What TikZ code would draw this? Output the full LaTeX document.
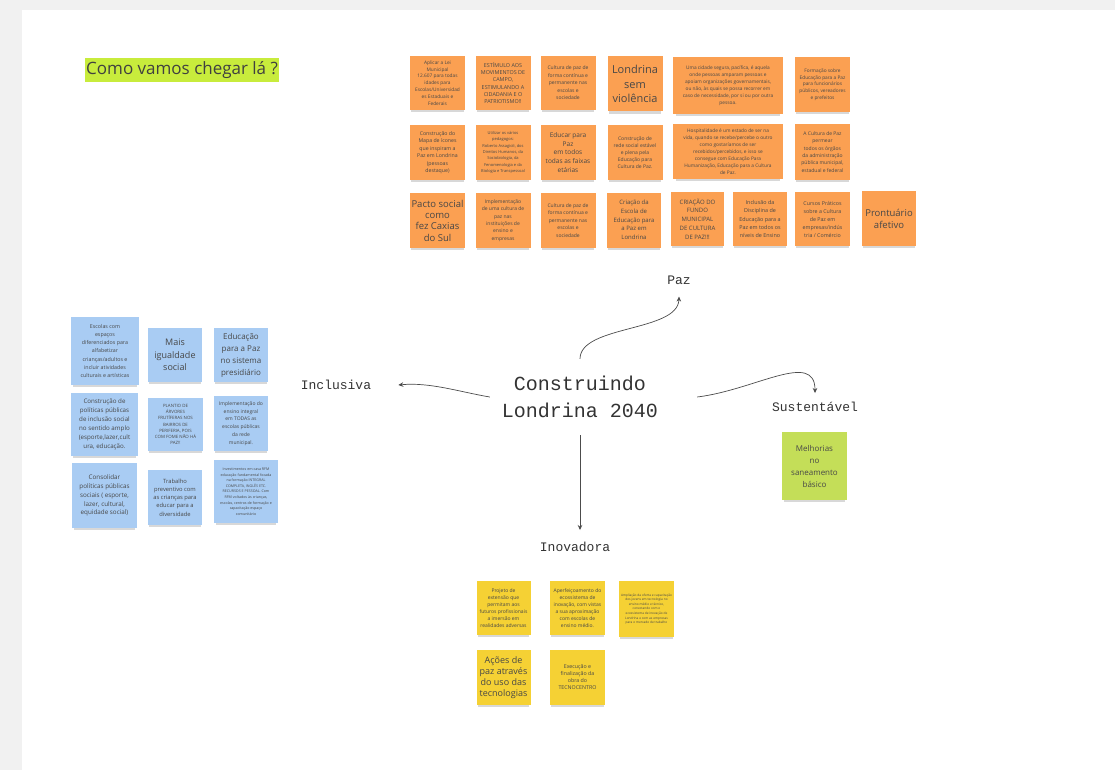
\documentclass[tikz,border=0pt]{standalone}
\usepackage{fontspec}
\setmainfont{Open Sans}
\newfontfamily\monof{Liberation Mono}
\usetikzlibrary{shadows,arrows.meta}
\definecolor{bggrey}{RGB}{241,241,241}
\definecolor{orangeN}{RGB}{251,160,82}
\definecolor{blueN}{RGB}{169,204,243}
\definecolor{yellowN}{RGB}{245,209,52}
\definecolor{greenN}{RGB}{196,222,88}
\definecolor{titleG}{RGB}{200,236,60}
\newcommand\nfs[2]{\fontsize{#1}{#2}\selectfont}
\tikzset{
  note/.style={rectangle, inner sep=0pt, align=center, text=black!72,
    drop shadow={shadow xshift=0pt, shadow yshift=-4pt, opacity=0.3, shadow scale=0.95}},
  on/.style={note, fill=orangeN},
  bn/.style={note, fill=blueN},
  yn/.style={note, fill=yellowN},
  gn/.style={note, fill=greenN},
  sz/.style 2 args={minimum width=#1, minimum height=#2},
  fs/.style 2 args={font=\nfs{#1}{#2}},
  lbl/.style={font=\monof\nfs{13}{15}, text=black!80},
  conn/.style={draw=black!70, line width=0.7pt, -{Stealth[length=5pt,width=4.5pt]}}
}
\begin{document}
\begin{tikzpicture}[x=1pt,y=-1pt]
\fill[bggrey] (0,0) rectangle (1115,770);
\fill[white] (22,10) rectangle (1115,770);
\useasboundingbox (0,0) rectangle (1115,770);

% title
\node[fill=titleG, inner xsep=1, inner ysep=3, font=\nfs{17}{20}, text=black!75, anchor=west] (title) at (85,70) {Como vamos chegar lá ?};

% center and branches
\node[font=\monof\nfs{20}{27}, text=black!80, align=center, inner xsep=12, inner ysep=17] (ctr) at (580,397) {Construindo\\Londrina 2040};
\node[lbl, inner xsep=2, inner ysep=12] (paz) at (679,280) {Paz};
\node[lbl, inner xsep=27, inner ysep=2] (incl) at (336,385) {Inclusiva};
\node[lbl, inner xsep=2, inner ysep=9] (sust) at (815,407) {Sustentável};
\node[lbl, inner xsep=2, inner ysep=12] (inov) at (575,547) {Inovadora};

\draw[conn] (ctr.north) .. controls (580,325) and (678,332) .. (paz.south);
\draw[conn] (ctr.west) .. controls (460,392) and (430,382) .. (incl.east);
\draw[conn] ([xshift=27pt]ctr.east) .. controls (755,390) and (815,350) .. (sust.north);
\draw[conn] (ctr.south) -- (ctr.south |- inov.north);

% orange row 1
\node[on, sz={55}{54}, fs={4.8}{6.8}] (o11) at (437.5,83) {Aplicar a Lei\\Municipal\\12.607 para todas\\idades para\\Escolas/Universidad\\es Estaduais e\\Federais};
\node[on, sz={55}{54}, fs={5.4}{7.3}] (o12) at (503,83) {ESTÍMULO AOS\\MOVIMENTOS DE\\CAMPO,\\ESTIMULANDO A\\CIDADANIA E O\\PATRIOTISMO!!};
\node[on, sz={55}{54}, fs={5}{7.5}] (o13) at (568,83) {Cultura de paz de\\forma contínua e\\permanente nas\\escolas e\\sociedade};
\node[on, sz={55}{55}, fs={11}{14.5}] (o14) at (635,84) {Londrina\\sem\\violência};
\node[on, sz={110}{57}, fs={4.8}{7}] (o15) at (728,85.5) {Uma cidade segura, pacífica, é aquela\\onde pessoas amparam pessoas e\\apoiam organizações governamentais,\\ou não, às quais se possa recorrer em\\caso de necessidade, por si ou por outra\\pessoa.};
\node[on, sz={55}{55}, fs={4.8}{6.7}] (o16) at (822.5,84.5) {Formação sobre\\Educação para a Paz\\para funcionários\\públicos, vereadores\\e prefeitos};

% orange row 2
\node[on, sz={55}{55}, fs={5.2}{7.5}] (o21) at (437.5,152.5) {Construção do\\Mapa de ícones\\que inspiram a\\Paz em Londrina\\(pessoas\\destaque)};
\node[on, sz={55}{55}, fs={4}{6.3}] (o22) at (503,152.5) {Utilizar os vários\\pedagogos:\\Roberto Assagioli, dos\\Direitos Humanos, da\\Sociobiologia, da\\Fenomenologia e da\\Biologia e Transpessoal};
\node[on, sz={55}{55}, fs={6.5}{8.7}] (o23) at (568,152.5) {Educar para\\Paz\\em todos\\todas as faixas\\etárias};
\node[on, sz={55}{55}, fs={5}{7}] (o24) at (635,152.5) {Construção de\\rede social estável\\e plena pela\\Educação para\\Cultura de Paz.};
\node[on, sz={110}{55}, fs={4.8}{7}] (o25) at (728,151.5) {Hospitalidade é um estado de ser na\\vida, quando se recebe/percebe o outro\\como gostaríamos de ser\\recebidos/percebidos, e isso se\\consegue com Educação Para\\Humanização, Educação para a Cultura\\de Paz.};
\node[on, sz={55}{56}, fs={5}{7.3}] (o26) at (822.5,152) {A Cultura de Paz\\permear\\todos os órgãos\\da administração\\pública municipal,\\estadual e federal};

% orange row 3
\node[on, sz={55}{55}, fs={9.5}{11.3}] (o31) at (437.5,220.5) {Pacto social\\como\\fez Caxias\\do Sul};
\node[on, sz={55}{55}, fs={5}{7.3}] (o32) at (503,220.5) {Implementação\\de uma cultura de\\paz nas\\instituições de\\ensino e\\empresas};
\node[on, sz={55}{55}, fs={5}{7.5}] (o33) at (568,220.5) {Cultura de paz de\\forma contínua e\\permanente nas\\escolas e\\sociedade};
\node[on, sz={54}{55}, fs={6}{8.7}] (o34) at (634,220) {Criação da\\Escola de\\Educação para\\a Paz em\\Londrina};
\node[on, sz={53}{54}, fs={6}{8.7}] (o35) at (697.5,219) {CRIAÇÃO DO\\FUNDO\\MUNICIPAL\\DE CULTURA\\DE PAZ!!!};
\node[on, sz={54}{54}, fs={5.4}{8.3}] (o36) at (760,219) {Inclusão da\\Disciplina de\\Educação para a\\Paz em todos os\\níveis de Ensino};
\node[on, sz={55}{54}, fs={5.3}{8}] (o37) at (822.5,219) {Cursos Práticos\\sobre a Cultura\\de Paz em\\empresas/indús\\tria / Comércio};
\node[on, sz={54}{55}, fs={9.5}{12}] (o38) at (889,218.5) {Prontuário\\afetivo};

% blue
\node[bn, sz={68}{68}, fs={5.3}{8.2}] (b11) at (105,351) {Escolas com\\espaços\\diferenciados para\\alfabetizar\\crianças/adultos e\\incluir atividades\\culturais e artísticas};
\node[bn, sz={54}{54}, fs={9}{12.5}] (b12) at (175,355) {Mais\\igualdade\\social};
\node[bn, sz={54}{54}, fs={8}{12}] (b13) at (241,355) {Educação\\para a Paz\\no sistema\\presidiário};
\node[bn, sz={67}{63}, fs={6.2}{9}] (b21) at (104.5,424.5) {Construção de\\políticas públicas\\de inclusão social\\no sentido amplo\\(esporte,lazer,cult\\ura, educação.};
\node[bn, sz={55}{53}, fs={4.4}{6.1}] (b22) at (175.5,424.5) {PLANTIO DE\\ÁRVORES\\FRUTÍFERAS NOS\\BAIRROS DE\\PERIFERIA, POIS\\COM FOME NÃO HÁ\\PAZ!!};
\node[bn, sz={54}{55}, fs={5}{7.7}] (b23) at (241,423.5) {Implementação do\\ensino integral\\em TODAS as\\escolas públicas\\da rede\\municipal.};
\node[bn, sz={65}{65}, fs={6.3}{8.9}] (b31) at (104.5,495.5) {Consolidar\\políticas públicas\\sociais ( esporte,\\lazer, cultural,\\equidade social)};
\node[bn, sz={54}{55}, fs={5.8}{8.3}] (b32) at (175,497.5) {Trabalho\\preventivo com\\as crianças para\\educar para a\\diversidade};
\node[bn, sz={64}{63}, fs={3.6}{5.6}] (b33) at (246,491.5) {Investimentos em casa RFM\\educação fundamental focada\\na formação INTEGRAL\\COMPLETA, INGLÊS ETC.\\RECURSOS E PESSOAL. Com\\RFM voltados às crianças,\\escolas, centros de formação e\\capacitação espaço\\comunitário};

% yellow
\node[yn, sz={54}{54}, fs={5}{6.9}] (y11) at (503.5,608) {Projeto de\\extensão que\\permitam aos\\futuros profissionais\\a imersão em\\realidades adversas};
\node[yn, sz={55}{54}, fs={5}{6.9}] (y12) at (577.5,608) {Aperfeiçoamento do\\ecossistema de\\inovação, com vistas\\a sua aproximação\\com escolas de\\ensino médio.};
\node[yn, sz={55}{56}, fs={3.2}{4.6}] (y13) at (646.5,609) {Ampliação da oferta e capacitação\\dos jovens em tecnologia no\\ensino médio e técnico,\\conectando com o\\ecossistema de inovação de\\Londrina e com as empresas\\para o mercado de trabalho};
\node[yn, sz={54}{55}, fs={9}{11}] (y21) at (503.5,677.5) {Ações de\\paz através\\do uso das\\tecnologias};
\node[yn, sz={55}{55}, fs={5.3}{7}] (y22) at (577.5,677.5) {Execução e\\finalização da\\obra do\\TECNOCENTRO};

% green
\node[gn, sz={65}{68}, fs={8}{12}] (g1) at (814.5,466) {Melhorias\\no\\saneamento\\básico};
\end{tikzpicture}
\end{document}
